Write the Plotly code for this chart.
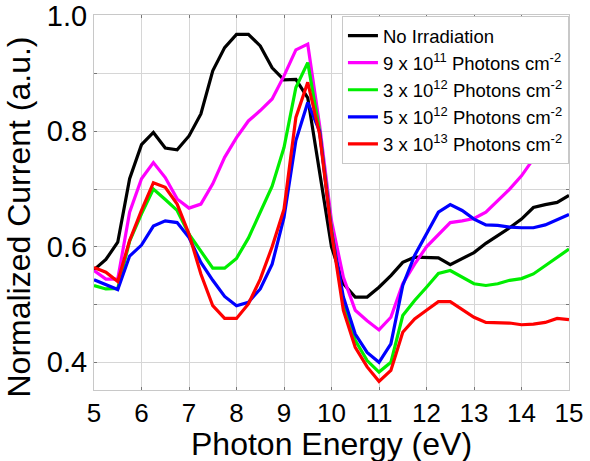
import plotly.graph_objects as go

energy = [5.0, 5.25, 5.5, 5.75, 6.0, 6.25, 6.5, 6.75, 7.0, 7.25, 7.5, 7.75, 8.0, 8.25, 8.5, 8.75,
          9.0, 9.25, 9.5, 9.75, 10.0, 10.25, 10.5, 10.75, 11.0, 11.25, 11.5, 11.75, 12.0, 12.25,
          12.5, 12.75, 13.0, 13.25, 13.5, 13.75, 14.0, 14.25, 14.5, 14.75, 15.0]

no_irradiation = [0.560, 0.578, 0.608, 0.718, 0.777, 0.798, 0.771, 0.768, 0.792, 0.830, 0.905,
                  0.945, 0.968, 0.968, 0.948, 0.910, 0.889, 0.890, 0.858, 0.730, 0.600, 0.536,
                  0.513, 0.513, 0.530, 0.550, 0.573, 0.582, 0.582, 0.581, 0.569, 0.579, 0.590,
                  0.606, 0.619, 0.633, 0.648, 0.668, 0.673, 0.677, 0.689]

dose_9e11 = [0.559, 0.544, 0.544, 0.660, 0.718, 0.746, 0.720, 0.683, 0.667, 0.674, 0.709, 0.755,
             0.789, 0.818, 0.836, 0.856, 0.896, 0.941, 0.951, 0.810, 0.645, 0.547, 0.490, 0.472,
             0.456, 0.478, 0.536, 0.570, 0.600, 0.622, 0.642, 0.645, 0.649, 0.660, 0.680, 0.700,
             0.723, 0.752, 0.780, 0.810, 0.840]

dose_3e12 = [0.533, 0.527, 0.528, 0.610, 0.657, 0.700, 0.682, 0.663, 0.622, 0.593, 0.563, 0.563,
             0.580, 0.615, 0.660, 0.705, 0.772, 0.876, 0.919, 0.800, 0.630, 0.500, 0.438, 0.403,
             0.383, 0.400, 0.481, 0.507, 0.530, 0.554, 0.559, 0.548, 0.536, 0.533, 0.536, 0.542,
             0.545, 0.553, 0.567, 0.581, 0.596]

dose_5e12 = [0.543, 0.535, 0.526, 0.584, 0.603, 0.636, 0.645, 0.642, 0.616, 0.573, 0.542, 0.514,
             0.498, 0.504, 0.527, 0.570, 0.651, 0.784, 0.850, 0.800, 0.625, 0.513, 0.449, 0.417,
             0.400, 0.432, 0.533, 0.585, 0.622, 0.660, 0.673, 0.663, 0.648, 0.638, 0.637, 0.634,
             0.633, 0.633, 0.638, 0.647, 0.656]

dose_3e13 = [0.564, 0.556, 0.540, 0.611, 0.663, 0.711, 0.703, 0.674, 0.622, 0.553, 0.498, 0.476,
             0.476, 0.501, 0.544, 0.600, 0.665, 0.824, 0.885, 0.795, 0.625, 0.490, 0.426, 0.392,
             0.367, 0.386, 0.452, 0.475, 0.490, 0.505, 0.505, 0.491, 0.478, 0.469, 0.468, 0.468,
             0.465, 0.466, 0.469, 0.476, 0.474]

series_names = ["No Irradiation",
                "9 x 10<sup>11</sup> Photons cm<sup>-2</sup>",
                "3 x 10<sup>12</sup> Photons cm<sup>-2</sup>",
                "5 x 10<sup>12</sup> Photons cm<sup>-2</sup>",
                "3 x 10<sup>13</sup> Photons cm<sup>-2</sup>"]
series_values = [no_irradiation, dose_9e11, dose_3e12, dose_5e12, dose_3e13]
series_colors = ["#000000", "#ff00ff", "#00ee00", "#0000ff", "#ff0000"]

y_tickvals = [0.4, 0.5, 0.6, 0.7, 0.8, 0.9, 1.0]
y_ticktext = ["0.4", "", "0.6", "", "0.8", "", "1.0"]
x_tickvals = [5, 6, 7, 8, 9, 10, 11, 12, 13, 14, 15]

x_title = "Photon Energy (eV)"
y_title = "Normalized Current (a.u.)"

FONT = "Liberation Sans, Arial, sans-serif"

fig = go.Figure()
for name, vals, col in zip(series_names, series_values, series_colors):
    fig.add_trace(go.Scatter(x=energy, y=vals, mode="lines", name=name,
                             line=dict(color=col, width=3.2)))

axis_common = dict(showgrid=True, gridcolor="#d6d6d6", gridwidth=1,
                   showline=True, linecolor="#c8c8c8", linewidth=1, mirror="ticks",
                   ticks="inside", ticklen=3, tickcolor="#777777", zeroline=False,
                   automargin=False)

fig.update_xaxes(range=[5, 15], tickvals=x_tickvals,
                 tickfont=dict(family=FONT, size=26, color="black"),
                 **axis_common)
fig.update_yaxes(range=[0.352, 1.0015], tickvals=y_tickvals, ticktext=y_ticktext,
                 tickfont=dict(family=FONT, size=29, color="black"),
                 **axis_common)

fig.add_annotation(text=x_title, xref="paper", yref="paper", x=0.5, y=-0.145,
                   xanchor="center", yanchor="middle", showarrow=False,
                   font=dict(family=FONT, size=32, color="black"))
fig.add_annotation(text=y_title, xref="paper", yref="paper", x=-0.16, y=0.46,
                   xanchor="center", yanchor="middle", showarrow=False, textangle=-90,
                   font=dict(family=FONT, size=32, color="black"))

fig.update_layout(
    width=590, height=461,
    margin=dict(l=94, r=21, t=15, b=71, autoexpand=False),
    paper_bgcolor="white", plot_bgcolor="white",
    font=dict(family=FONT, color="black"),
    showlegend=True,
    legend=dict(x=0.522, y=0.997, xanchor="left", yanchor="top",
                bgcolor="white", bordercolor="#c8c8c8", borderwidth=1,
                font=dict(family=FONT, size=18.5, color="black"),
                tracegroupgap=0, itemwidth=30),
)

fig.write_html("out.html", config={"displayModeBar": False},
               post_script="document.body.style.margin='0';document.body.style.overflow='hidden';")
